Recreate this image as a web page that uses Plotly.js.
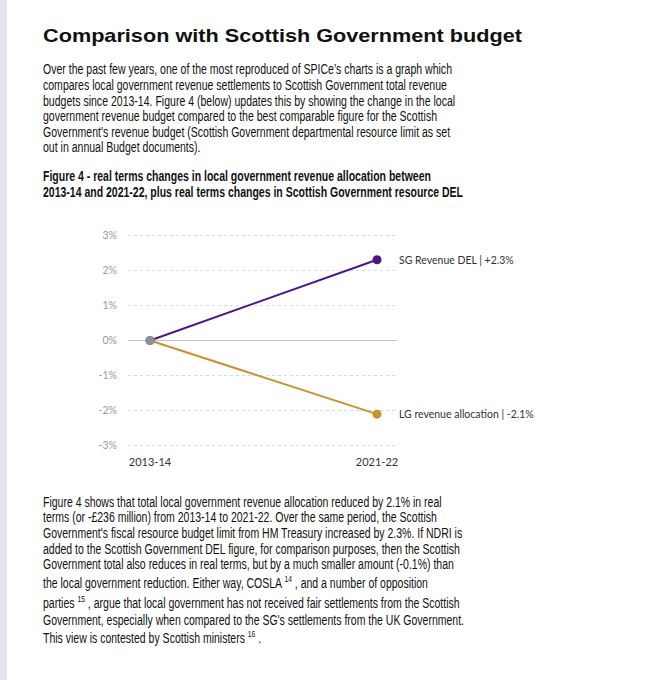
<!DOCTYPE html>
<html><head><meta charset="utf-8">
<script src="https://cdn.plot.ly/plotly-3.0.1.min.js"></script>
<style>
html,body{margin:0;padding:0;background:#fff;width:648px;height:680px;overflow:hidden;position:relative;}
#stripe{position:absolute;left:0;top:0;width:7px;height:680px;background:#e4e4ea;}
.ln{position:absolute;left:43px;white-space:nowrap;font-family:"Liberation Sans",Arial,sans-serif;color:#111;transform-origin:0 50%;}
.h{font-size:19px;font-weight:bold;}
.p{font-size:14px;}
.c{font-size:14px;font-weight:bold;}
sup{font-size:9px;vertical-align:0;position:relative;top:-6px;}
#chart{position:absolute;left:0;top:215px;width:648px;height:265px;}
</style></head>
<body>
<div id="stripe"></div>
<div id="text"></div>
<div id="chart"></div>
<script>
// ---- data ----
const categories = ['2013-14', '2021-22'];
const seriesNames = ['SG Revenue DEL', 'LG revenue allocation'];
const sgValues = [0, 2.3];
const lgValues = [0, -2.1];
const yTickVals = [-3, -2, -1, 0, 1, 2, 3];
const yTickText = ['-3%', '-2%', '-1%', '0%', '1%', '2%', '3%'];

// ---- text ----
const heading = ['Comparison with Scottish Government budget'];
const para1 = [
 "Over the past few years, one of the most reproduced of SPICe\u2019s charts is a graph which",
 "compares local government revenue settlements to Scottish Government total revenue",
 "budgets since 2013-14. Figure 4 (below) updates this by showing the change in the local",
 "government revenue budget compared to the best comparable figure for the Scottish",
 "Government's revenue budget (Scottish Government departmental resource limit as set",
 "out in annual Budget documents)."];
const caption = [
 "Figure 4 - real terms changes in local government revenue allocation between",
 "2013-14 and 2021-22, plus real terms changes in Scottish Government resource DEL"];
const para2 = [
 "Figure 4 shows that total local government revenue allocation reduced by 2.1% in real",
 "terms (or -\u00a3236 million) from 2013-14 to 2021-22. Over the same period, the Scottish",
 "Government's fiscal resource budget limit from HM Treasury increased by 2.3%. If NDRI is",
 "added to the Scottish Government DEL figure, for comparison purposes, then the Scottish",
 "Government total also reduces in real terms, but by a much smaller amount (-0.1%) than",
 "the local government reduction. Either way, COSLA <sup>14</sup> , and a number of opposition",
 "parties <sup>15</sup> , argue that local government has not received fair settlements from the Scottish",
 "Government, especially when compared to the SG's settlements from the UK Government.",
 "This view is contested by Scottish ministers <sup>16</sup> ."];

const host = document.getElementById('text');
function block(lines, cls, centers, refIdx, refWidth){
  const els = lines.map((t,i)=>{
    const d = document.createElement('div');
    d.className = 'ln ' + cls;
    d.innerHTML = t;
    host.appendChild(d);
    return d;
  });
  const w = els[refIdx].getBoundingClientRect().width;
  const s = refWidth / w;
  els.forEach((d,i)=>{
    const h = d.getBoundingClientRect().height;
    d.style.top = (centers[i] - h/2) + 'px';
    d.style.transform = 'scaleX(' + s + ')';
  });
}
block(heading, 'h', [36], 0, 479);
block(para1, 'p', [69, 85, 100.5, 116, 131.5, 147], 0, 409);
block(caption, 'c', [176, 192], 1, 420);
block(para2, 'p', [501.5, 517, 532.5, 548.5, 564, 583, 603, 619.5, 637.5], 7, 421);

// ---- chart ----
const purple = '#4a1785';
const gold = '#c8922f';
const grey = '#8e8e96';
const traces = [
  {x: categories, y: sgValues, mode: 'lines+markers', name: seriesNames[0],
   line: {color: purple, width: 2}, marker: {size: 9, color: [grey, purple]}, cliponaxis: false},
  {x: categories, y: lgValues, mode: 'lines+markers', name: seriesNames[1],
   line: {color: gold, width: 2}, marker: {size: 9, color: [grey, gold]}, cliponaxis: false},
  {x: [categories[0]], y: [sgValues[0]], mode: 'markers', marker: {size: 9, color: grey}, cliponaxis: false}
];
function fmt(v){ return (v > 0 ? '+' : '') + v.toFixed(1) + '%'; }
const annotations = [
  {x: categories[1], y: sgValues[1], text: seriesNames[0] + ' | ' + fmt(sgValues[1])},
  {x: categories[1], y: lgValues[1], text: seriesNames[1] + ' | ' + fmt(lgValues[1])}
].map(a => Object.assign(a, {xref: 'x', yref: 'y', xanchor: 'left', yanchor: 'middle',
   xshift: 20, showarrow: false, font: {family: 'Lato, "Open Sans", sans-serif', size: 10.5, color: '#333'}}));

const layout = {
  width: 648, height: 265,
  margin: {l: 128, r: 251, t: 16, b: 29, pad: 0},
  paper_bgcolor: 'rgba(0,0,0,0)', plot_bgcolor: 'rgba(0,0,0,0)',
  showlegend: false,
  xaxis: {type: 'category', range: [-0.097, 1.088], showgrid: false, zeroline: false, showline: false,
          ticks: '', ticklabelstandoff: 3,
          tickfont: {family: 'Lato, "Open Sans", sans-serif', size: 11, color: '#333'}, fixedrange: true},
  yaxis: {range: [-3.15, 3.12], tickvals: yTickVals, ticktext: yTickText, showgrid: true,
          gridcolor: '#d9d9d9', griddash: 'dot', gridwidth: 1,
          zeroline: true, zerolinecolor: '#c4c4c4', zerolinewidth: 1, showline: false, ticks: '',
          ticklabelstandoff: 10,
          tickfont: {family: 'Lato, "Open Sans", sans-serif', size: 10.5, color: '#999'}, fixedrange: true},
  annotations: annotations
};
Plotly.newPlot('chart', traces, layout, {displayModeBar: false, staticPlot: true});
</script>
</body></html>
